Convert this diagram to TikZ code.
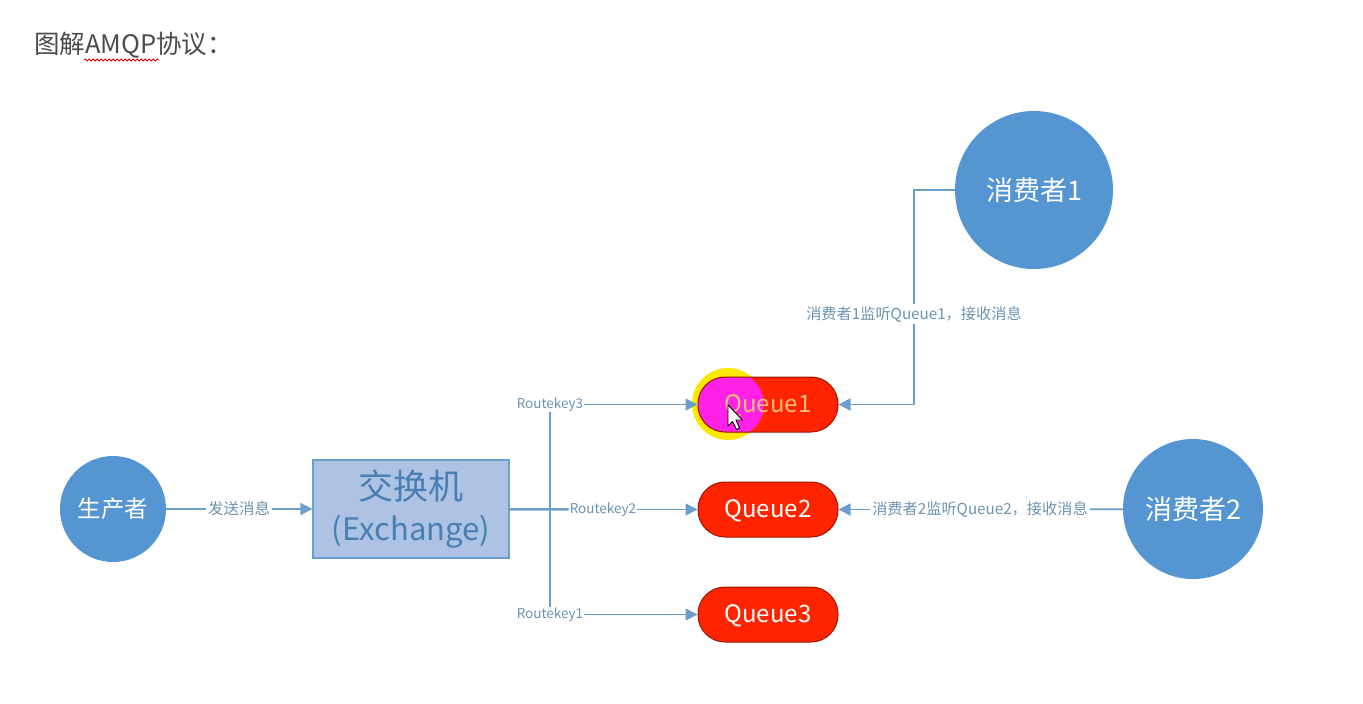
\documentclass[tikz,border=0pt]{standalone}
\usepackage{fontspec}
\setmainfont{Noto Sans CJK SC}
\usetikzlibrary{arrows.meta}
\usetikzlibrary{decorations.pathmorphing}
\definecolor{lineblue}{HTML}{6A9FCB}
\definecolor{ballblue}{HTML}{5495D2}
\definecolor{boxblue}{HTML}{AEC3E4}
\definecolor{labelblue}{HTML}{6C93B2}
\definecolor{queuered}{HTML}{FF2400}
\definecolor{spotpink}{HTML}{FF22E6}
\tikzset{
  ball/.style={circle, fill=ballblue, text=white, inner sep=0pt},
  queuebox/.style={rounded corners=27pt, draw=queuered!60!black, line width=1pt, fill=queuered, text=white, minimum width=140pt, minimum height=55pt, inner sep=0pt, text height=16pt, text depth=0pt, font=\fontsize{24}{26}\selectfont},
  link/.style={draw=lineblue, line width=1.8pt},
  arrowlink/.style={link, -{Triangle[length=12pt, width=12pt]}},
  keylabel/.style={fill=white, text=labelblue, inner sep=1pt, text height=10pt, text depth=2pt, font=\fontsize{13.5}{15}\selectfont},
  textlabel/.style={fill=white, text=labelblue, inner sep=2pt, font=\fontsize{15.2}{17}\selectfont}
}
\begin{document}
\begin{tikzpicture}[x=1pt, y=-1pt]
              \useasboundingbox (0, 0) rectangle (1363, 704);
              \node[anchor=west, inner sep=0pt, text=black!70, font=\fontsize{25.5}{28}\selectfont] (title) at (34, 45) {图解AMQP协议：};
              \coordinate (wavea) at (84, 60);
              \coordinate (waveb) at (159, 60);
              \draw[red!80!black, line width=0.8pt, decorate, decoration={snake, amplitude=1pt, segment length=4pt}] (wavea) -- (waveb);
              \node[ball, minimum size=106pt, font=\fontsize{23.5}{26}\selectfont] (producer) at (113, 509) {生产者};
              \node[draw=lineblue, line width=1.2pt, fill=boxblue, minimum width=196pt, minimum height=98pt, inner sep=0pt, align=center, text=ballblue!85!black] (exchange) at (411, 509) {{\fontsize{35}{40}\selectfont 交换机}\\[12pt]{\fontsize{31}{34}\selectfont (Exchange)}};
              \fill[yellow!90!orange] (728, 404) circle (36);
              \node[queuebox, text=orange!50!white, path picture={\fill[spotpink] ([xshift=33pt]path picture bounding box.west) circle (33);}] (queuea) at (768, 404.5) {Queue1};
              \node[queuebox] (queueb) at (768, 509.5) {Queue2};
              \node[queuebox] (queuec) at (768, 614.5) {Queue3};
              \node[ball, minimum size=158pt, font=\fontsize{27}{30}\selectfont] (consumera) at (1034, 190) {消费者1};
              \node[ball, minimum size=140pt, font=\fontsize{27}{30}\selectfont] (consumerb) at (1193, 509) {消费者2};
              \node[textlabel, font=\fontsize{15.5}{17}\selectfont] (sendlabel) at (239, 509) {发送消息};
              \draw[link] (producer) -- (sendlabel);
              \draw[arrowlink] (sendlabel) -- (exchange);
              \node[keylabel] (keyc) at (550, 404.5) {Routekey3};
              \node[keylabel] (keyb) at (603, 509.5) {Routekey2};
              \node[keylabel] (keya) at (550, 614.5) {Routekey1};
              \draw[link, line width=2.5pt] (exchange) -- (keyb);
              \draw[link] (keyc) -- (keya);
              \draw[arrowlink] (keyc) -- (queuea);
              \draw[arrowlink] (keyb) -- (queueb);
              \draw[arrowlink] (keya) -- (queuec);
              \node[textlabel] (listena) at (914, 314) {消费者1监听Queue1，接收消息};
              \draw[link] (consumera) -| (listena);
              \draw[arrowlink] (listena) |- (queuea);
              \node[textlabel] (listenb) at (980, 509.5) {消费者2监听Queue2，接收消息};
              \draw[link] (consumerb) -- (listenb);
              \draw[arrowlink] (listenb) -- (queueb);
              \coordinate (cursor) at (728, 405);
              \draw[fill=white, line width=0.9pt, line join=round] (cursor) -- ++(0, 21) -- ++(4.5, -4.5) -- ++(4, 8) -- ++(3, -1.5) -- ++(-3.5, -8) -- ++(6.5, 0) -- cycle;
            \end{tikzpicture}
\end{document}
